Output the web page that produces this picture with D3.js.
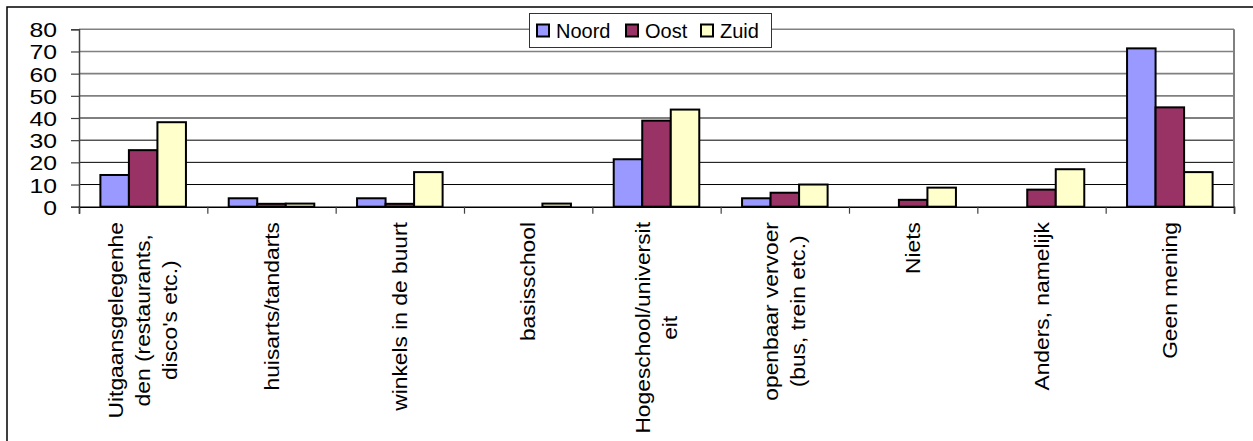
<!DOCTYPE html>
<html><head><meta charset="utf-8">
<script src="https://cdn.jsdelivr.net/npm/d3@7"></script>
<style>body{margin:0;background:#fff}svg{display:block}text{font-family:"Liberation Sans",Arial,sans-serif;fill:#000}</style>
</head><body>
<script>
const categories = [
  ["Uitgaansgelegenhe","den (restaurants,","disco's etc.)"],
  ["huisarts/tandarts"],
  ["winkels in de buurt"],
  ["basisschool"],
  ["Hogeschool/universit","eit"],
  ["openbaar vervoer","(bus, trein etc.)"],
  ["Niets"],
  ["Anders, namelijk"],
  ["Geen mening"]
];
const seriesNames = ["Noord","Oost","Zuid"];
const noord = [14.3, 3.8, 3.8, 0, 21.4, 3.8, 0, 0, 71.4];
const oost  = [25.5, 1.3, 1.3, 0, 38.8, 6.3, 3.1, 7.7, 44.8];
const zuid  = [38.1, 1.4, 15.6, 1.4, 43.8, 10.0, 8.6, 16.9, 15.6];
const yTicks = [0,10,20,30,40,50,60,70,80];
const colors = ["#9999FF","#993366","#FFFFCC"];

const W = 1253, H = 441;
const svg = d3.select("body").append("svg").attr("width", W).attr("height", H);
svg.append("rect").attr("x",7).attr("y",7).attr("width",W+10).attr("height",H+10)
  .attr("fill","#fff").attr("stroke","#000").attr("stroke-width",1.5);

const L = 79, R = 1234, T = 29.3, B = 206.7;
const catIdx = categories.map((c,i)=>i);
const x0 = d3.scaleBand().domain(catIdx).range([L,R]).padding(0);
const x1 = d3.scaleBand().domain(seriesNames).range([0,x0.bandwidth()]).paddingInner(0).paddingOuter(0.75);
const y = d3.scaleLinear().domain([0,80]).range([B,T]);

// gridlines
svg.append("g").selectAll("line").data(yTicks.filter(d=>d>0)).join("line")
  .attr("x1",L).attr("x2",R).attr("y1",d=>y(d)).attr("y2",d=>y(d))
  .attr("stroke",d=>d>=50?"#808080":"#000").attr("stroke-width",d=>d>=50?1.6:1);
// right border
svg.append("line").attr("x1",R).attr("x2",R).attr("y1",T).attr("y2",B).attr("stroke","#808080").attr("stroke-width",2);

// bars
const series = [noord, oost, zuid];
const g = svg.append("g");
series.forEach((vals, si) => {
  g.append("g").selectAll("rect").data(vals).join("rect")
    .attr("x",(d,i)=>x0(i)+x1(seriesNames[si]))
    .attr("y",d=>y(d))
    .attr("width",x1.bandwidth())
    .attr("height",d=>B-y(d))
    .attr("fill",colors[si])
    .attr("stroke","#000").attr("stroke-width",d=>d>0?2:0);
});

// y axis
const yAxis = d3.axisLeft(y).tickValues(yTicks).tickSize(8).tickFormat(d3.format("d"));
const ya = svg.append("g").attr("transform",`translate(${L},0)`).call(yAxis);
ya.select(".domain").attr("stroke","#404040").attr("stroke-width",1.5);
ya.selectAll(".tick line").attr("stroke","#404040").attr("stroke-width",1.2);
ya.selectAll(".tick text").attr("font-size",21).attr("x",null).attr("dy",null)
  .attr("text-anchor","end")
  .attr("transform","translate(-22,7.5) scale(1.18,1)")
  .attr("font-family",'"Liberation Sans",Arial,sans-serif').attr("fill","#000");

// x axis
const xAxisScale = d3.scaleLinear().domain([0,categories.length]).range([L,R]);
const xa = svg.append("g").attr("transform",`translate(0,${B})`)
  .call(d3.axisBottom(xAxisScale).tickValues(d3.range(categories.length+1)).tickSize(7).tickFormat(""));
xa.select(".domain").attr("stroke","#000").attr("stroke-width",1.5);
xa.selectAll(".tick line").attr("stroke","#404040").attr("stroke-width",1.2);

// category labels (rotated, lines centered on the longest line)
const lineH = 27, fs = 20, stretch = 1.14, topY = 222;
const meas = svg.append("text").attr("font-size",fs).attr("visibility","hidden");
categories.forEach((lines, i) => {
  const cx = x0(i) + x0.bandwidth()/2;
  const n = lines.length;
  const widths = lines.map(t => { meas.text(t); return meas.node().getComputedTextLength()*stretch; });
  const maxW = d3.max(widths);
  const midY = topY + maxW/2;
  lines.forEach((t, j) => {
    const bx = cx + (j - (n-1)/2)*lineH + 7;
    svg.append("text").text(t)
      .attr("transform",`translate(${bx},${midY}) rotate(-90) scale(${stretch},1)`)
      .attr("text-anchor","middle")
      .attr("font-size",fs);
  });
});
meas.remove();

// legend
const lg = svg.append("g");
lg.append("rect").attr("x",529.5).attr("y",13.5).attr("width",242).attr("height",34)
  .attr("fill","#fff").attr("stroke","#333").attr("stroke-width",1);
const legX = [537, 626, 701];
seriesNames.forEach((s,i)=>{
  lg.append("rect").attr("x",legX[i]).attr("y",24.5).attr("width",12).attr("height",12)
    .attr("fill",colors[i]).attr("stroke","#000").attr("stroke-width",2);
  lg.append("text").text(s).attr("x",legX[i]+19).attr("y",37.5).attr("font-size",20);
});
</script>
</body></html>
